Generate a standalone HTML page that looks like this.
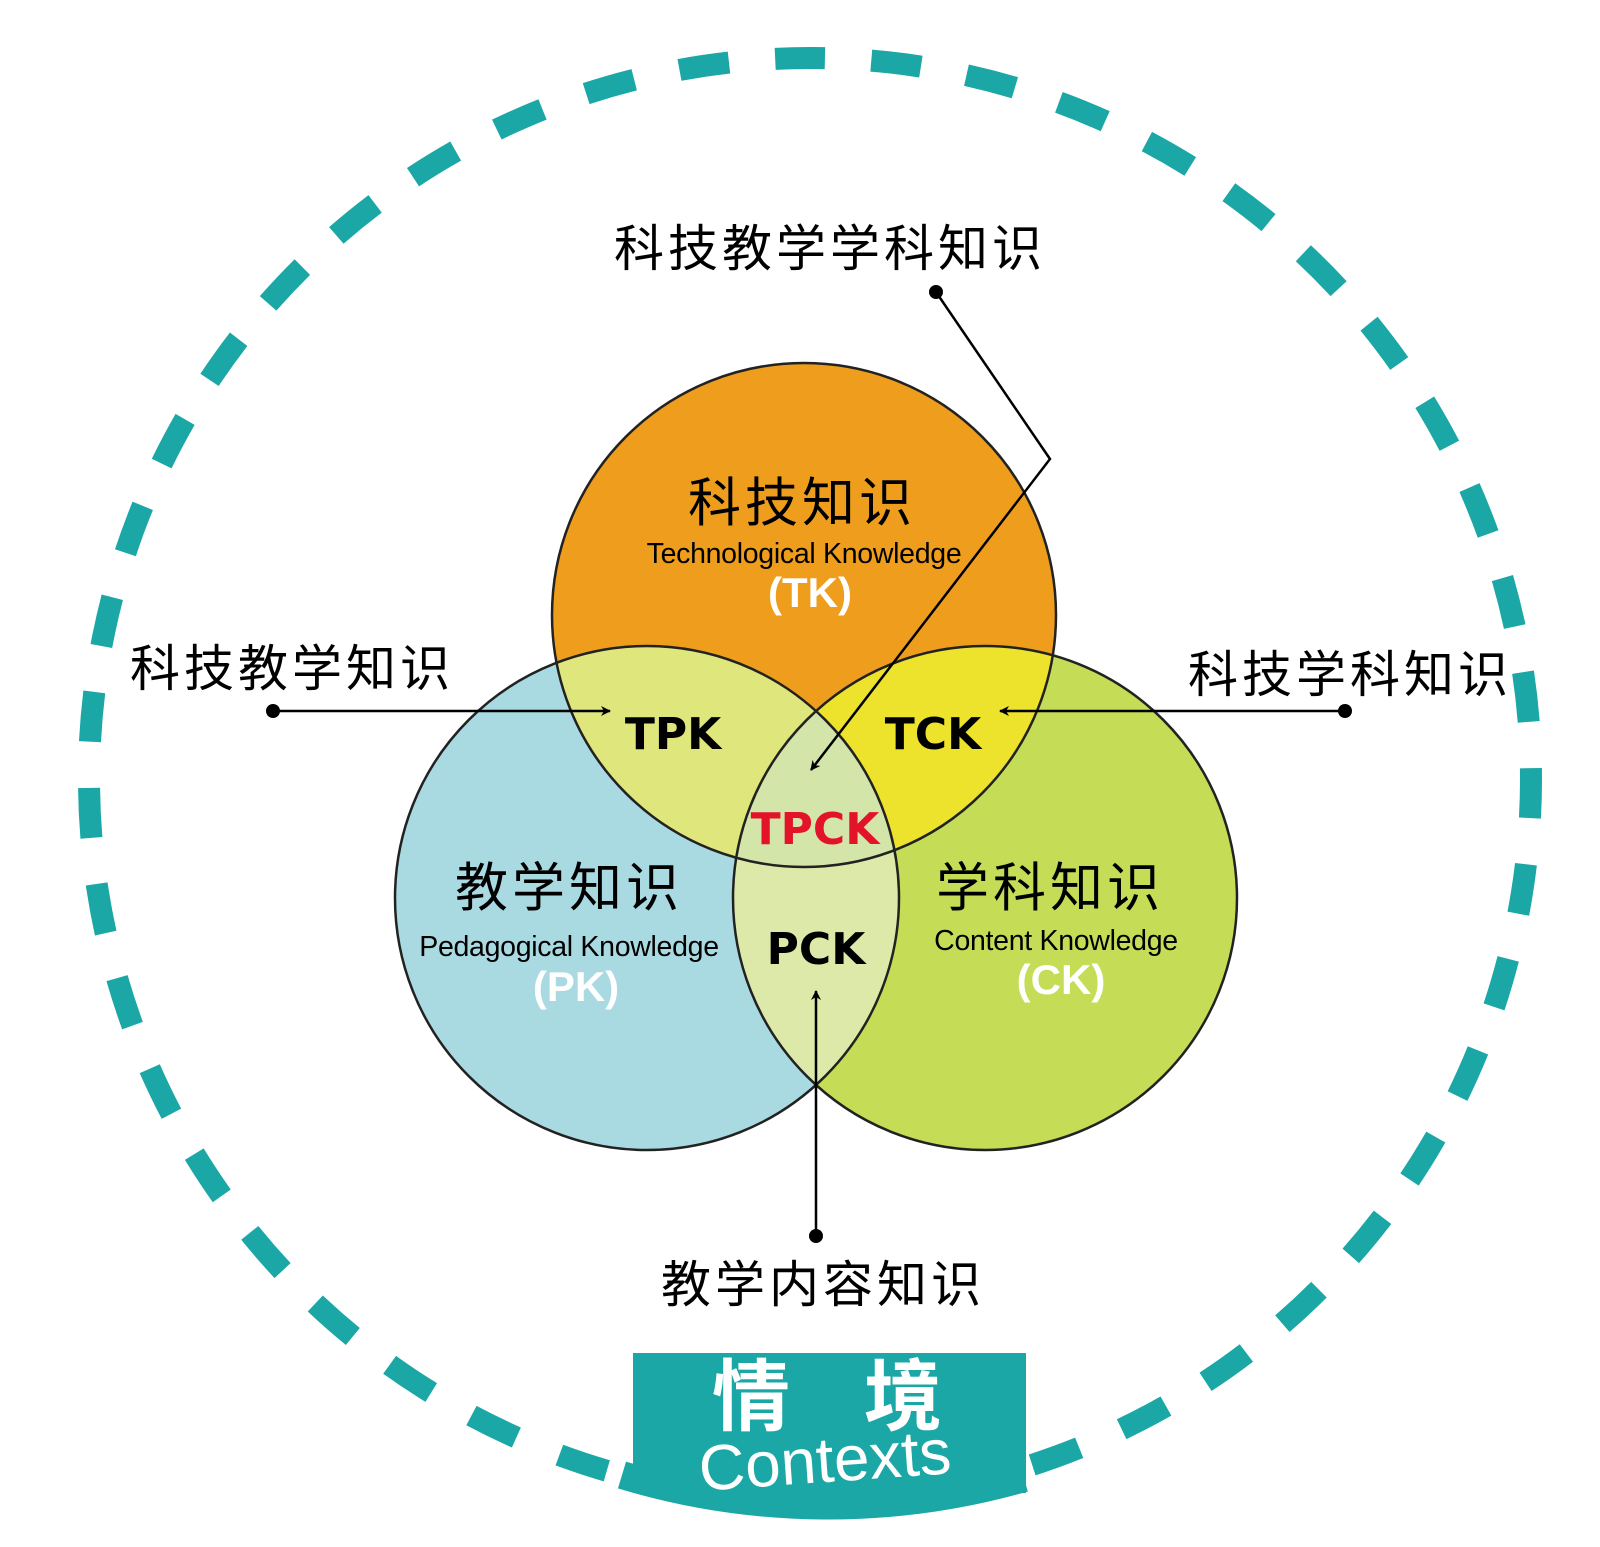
<!DOCTYPE html>
<html><head><meta charset="utf-8"><style>
html,body{margin:0;padding:0;background:#fff;}
svg{display:block;}
.cjk{font-family:"Liberation Sans","Noto Sans CJK SC",sans-serif;}
</style></head><body>
<svg width="1600" height="1547" viewBox="0 0 1600 1547" xmlns="http://www.w3.org/2000/svg">
<defs>
<clipPath id="cT"><circle cx="804" cy="615" r="252"/></clipPath>
<clipPath id="cP"><circle cx="647" cy="898" r="252"/></clipPath>
<clipPath id="cC"><circle cx="985" cy="898" r="252"/></clipPath>
<marker id="ar" markerWidth="10" markerHeight="10" refX="9" refY="5" orient="auto" markerUnits="userSpaceOnUse"><path d="M0,0 L10,5 L0,10 L3,5 Z" fill="#000"/></marker>
</defs>
<rect width="1600" height="1547" fill="#fff"/>
<circle cx="810" cy="779" r="721" fill="none" stroke="#1ba7a6" stroke-width="22" stroke-dasharray="50 46.38" stroke-dashoffset="35" transform="rotate(-90 810 779)"/>
<path d="M 622 1475 A 712 712 0 0 0 1024 1478" fill="none" stroke="#1ba7a6" stroke-width="28"/>
<rect x="633" y="1353" width="393" height="140" fill="#1ba7a6"/>
<circle cx="804" cy="615" r="252" fill="#ee9e1c"/>
<circle cx="647" cy="898" r="252" fill="#a9dae1"/>
<circle cx="985" cy="898" r="252" fill="#c5dc56"/>
<g clip-path="url(#cT)">
<circle cx="647" cy="898" r="252" fill="#dfe67b"/>
<circle cx="985" cy="898" r="252" fill="#ede22c"/>
</g>
<g clip-path="url(#cP)">
<circle cx="985" cy="898" r="252" fill="#dde9a9"/>
<g clip-path="url(#cC)"><circle cx="804" cy="615" r="252" fill="#d3e5a8"/></g>
</g>
<g fill="none" stroke="#222" stroke-width="2.5">
<circle cx="804" cy="615" r="252"/>
<circle cx="647" cy="898" r="252"/>
<circle cx="985" cy="898" r="252"/>
</g>
<g stroke="#000" stroke-width="2.5" fill="none">
<polyline points="936,292 1050,459 811,770" marker-end="url(#ar)"/>
<line x1="273" y1="711" x2="610" y2="711" marker-end="url(#ar)"/>
<line x1="1345" y1="711" x2="1000" y2="711" marker-end="url(#ar)"/>
<line x1="816" y1="1236" x2="816" y2="991" marker-end="url(#ar)"/>
</g>
<g fill="#000"><circle cx="936" cy="292" r="7"/><circle cx="273" cy="711" r="7"/><circle cx="1345" cy="711" r="7"/><circle cx="816" cy="1236" r="7"/></g>
<g class="cjk" text-anchor="middle" font-size="50" fill="#000" style="letter-spacing:4px">
<text x="830" y="266">科技教学学科知识</text>
<text x="292" y="686">科技教学知识</text>
<text x="1350" y="692">科技学科知识</text>
<text x="823" y="1302">教学内容知识</text>
<text x="802" y="521" font-size="53">科技知识</text>
<text x="569" y="906" font-size="53">教学知识</text>
<text x="1050" y="906" font-size="53">学科知识</text>
</g>
<g font-family="Liberation Sans, sans-serif" text-anchor="middle">
<text x="804" y="563" font-size="28.5" letter-spacing="-0.3">Technological Knowledge</text>
<text x="569" y="956" font-size="28.5" letter-spacing="-0.3">Pedagogical Knowledge</text>
<text x="1056" y="950" font-size="28.5" letter-spacing="-0.3">Content Knowledge</text>
<text x="810" y="607" font-size="42" font-weight="bold" fill="#fff">(TK)</text>
<text x="576" y="1001" font-size="42" font-weight="bold" fill="#fff">(PK)</text>
<text x="1061" y="994" font-size="42" font-weight="bold" fill="#fff">(CK)</text>
<g font-family="DejaVu Sans, sans-serif" font-weight="bold" font-size="44">
<text x="673" y="749">TPK</text>
<text x="933" y="749">TCK</text>
<text x="815" y="844" fill="#e3132a">TPCK</text>
<text x="816" y="964">PCK</text>
</g>
</g>
<g fill="#fff" text-anchor="middle">
<text class="cjk" x="751" y="1424" font-size="78" font-weight="bold">情</text>
<text class="cjk" x="903" y="1424" font-size="78" font-weight="bold">境</text>
<text x="825" y="1482" font-family="Liberation Sans, sans-serif" font-size="64" transform="rotate(-4 825 1462)">Contexts</text>
</g>
</svg>
</body></html>
